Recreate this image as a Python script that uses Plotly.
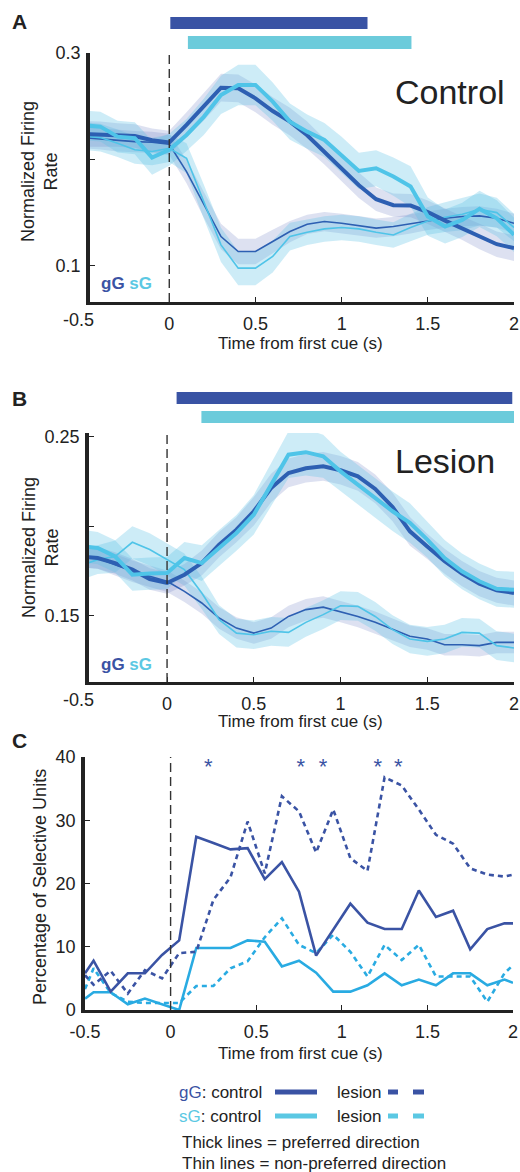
import plotly.graph_objects as go

# ---------------- data ----------------
t_fr = [-0.5, -0.4, -0.3, -0.2, -0.1, 0.0, 0.1, 0.2, 0.3, 0.4, 0.5, 0.6, 0.7,
        0.8, 0.9, 1.0, 1.1, 1.2, 1.3, 1.4, 1.5, 1.6, 1.7, 1.8, 1.9, 2.0]

# Panel A (control)
a_gG_pref = [0.224, 0.2236, 0.223, 0.222, 0.218, 0.216, 0.2324, 0.2496, 0.2674, 0.2668, 0.2574, 0.2455, 0.2355,
             0.2227, 0.2071, 0.1914, 0.1757, 0.1626, 0.157, 0.1566, 0.1504, 0.1425, 0.1353, 0.1275, 0.1203, 0.1166]
a_sG_pref = [0.232, 0.2308, 0.2214, 0.2199, 0.2017, 0.209, 0.223, 0.240, 0.2606, 0.270, 0.270, 0.2543, 0.2355,
             0.2261, 0.2183, 0.2042, 0.1892, 0.1917, 0.1839, 0.1745, 0.1463, 0.1369, 0.1432, 0.1535, 0.1447, 0.1291]
a_gG_np = [0.2205, 0.2193, 0.2174, 0.2167, 0.2161, 0.2142, 0.1886, 0.1573, 0.1275, 0.1134, 0.1134, 0.1228, 0.1322,
           0.139, 0.1416, 0.140, 0.1375, 0.1354, 0.1369, 0.1394, 0.1426, 0.1447, 0.1463, 0.1469, 0.1447, 0.140]
a_sG_np = [0.222, 0.2205, 0.2152, 0.209, 0.2074, 0.2105, 0.2011, 0.1604, 0.1197, 0.0978, 0.0978, 0.1088, 0.1275,
           0.1316, 0.1347, 0.136, 0.1347, 0.1316, 0.129, 0.136, 0.1422, 0.1457, 0.1485, 0.153, 0.150, 0.136]
a_gG_pref_sem = [0.012, 0.012, 0.011, 0.011, 0.011, 0.011, 0.012, 0.013, 0.013, 0.013, 0.013, 0.013, 0.013,
                 0.013, 0.012, 0.012, 0.012, 0.011, 0.011, 0.011, 0.011, 0.011, 0.011, 0.012, 0.012, 0.012]
a_sG_pref_sem = [0.014, 0.014, 0.015, 0.015, 0.016, 0.015, 0.015, 0.017, 0.018, 0.019, 0.019, 0.018, 0.017,
                 0.016, 0.016, 0.017, 0.017, 0.017, 0.018, 0.019, 0.018, 0.016, 0.016, 0.017, 0.017, 0.016]
a_gG_np_sem = [0.010, 0.010, 0.010, 0.010, 0.010, 0.010, 0.011, 0.012, 0.012, 0.012, 0.012, 0.011, 0.010,
               0.009, 0.009, 0.009, 0.009, 0.009, 0.009, 0.009, 0.009, 0.009, 0.009, 0.009, 0.009, 0.009]
a_sG_np_sem = [0.013, 0.013, 0.013, 0.013, 0.013, 0.013, 0.014, 0.016, 0.016, 0.016, 0.016, 0.015, 0.013,
               0.012, 0.012, 0.012, 0.012, 0.012, 0.012, 0.013, 0.013, 0.014, 0.015, 0.015, 0.014, 0.013]

# Panel B (lesion)
b_gG_pref = [0.183, 0.1822, 0.1794, 0.1757, 0.1705, 0.1683, 0.1729, 0.1794, 0.1897, 0.198, 0.2083, 0.2213, 0.2297,
             0.2323, 0.2334, 0.2312, 0.2278, 0.2208, 0.2107, 0.1971, 0.1887, 0.1804, 0.1735, 0.1679, 0.1642, 0.1627]
b_sG_pref = [0.189, 0.1878, 0.1831, 0.1729, 0.1735, 0.1738, 0.1822, 0.1794, 0.1878, 0.1962, 0.2064, 0.2232, 0.2399,
             0.2413, 0.239, 0.2306, 0.2232, 0.2157, 0.2083, 0.2018, 0.1925, 0.1822, 0.1748, 0.1692, 0.165, 0.1645]
b_gG_np = [0.183, 0.1822, 0.1785, 0.1748, 0.172, 0.1692, 0.1636, 0.1571, 0.1487, 0.1431, 0.1403, 0.1431, 0.1496,
           0.1534, 0.1548, 0.1524, 0.1496, 0.1463, 0.1422, 0.1385, 0.137, 0.1338, 0.1338, 0.1333, 0.1351, 0.1351]
b_sG_np = [0.178, 0.1813, 0.183, 0.191, 0.187, 0.1813, 0.1757, 0.1627, 0.1478, 0.1403, 0.1394, 0.1413, 0.1407,
           0.1463, 0.1506, 0.1556, 0.1552, 0.1496, 0.1422, 0.137, 0.1357, 0.137, 0.1407, 0.1403, 0.1333, 0.132]
b_gG_pref_sem = [0.006, 0.006, 0.006, 0.006, 0.006, 0.006, 0.006, 0.007, 0.007, 0.007, 0.008, 0.008, 0.008,
                 0.008, 0.008, 0.008, 0.008, 0.008, 0.008, 0.008, 0.007, 0.007, 0.007, 0.007, 0.007, 0.007]
b_sG_pref_sem = [0.009, 0.009, 0.009, 0.009, 0.009, 0.009, 0.009, 0.010, 0.010, 0.010, 0.011, 0.012, 0.013,
                 0.013, 0.012, 0.011, 0.011, 0.011, 0.011, 0.011, 0.010, 0.010, 0.010, 0.010, 0.010, 0.010]
b_gG_np_sem = [0.006, 0.006, 0.006, 0.006, 0.006, 0.006, 0.006, 0.006, 0.006, 0.006, 0.006, 0.006, 0.006,
               0.006, 0.006, 0.006, 0.006, 0.006, 0.006, 0.006, 0.006, 0.006, 0.006, 0.006, 0.006, 0.006]
b_sG_np_sem = [0.008, 0.008, 0.009, 0.009, 0.009, 0.009, 0.009, 0.009, 0.008, 0.008, 0.008, 0.008, 0.008,
               0.008, 0.008, 0.008, 0.008, 0.008, 0.008, 0.008, 0.008, 0.008, 0.008, 0.008, 0.008, 0.008]

# significance bars (time spans, s)
sig_a_gG = [0.006, 1.15]
sig_a_sG = [0.108, 1.405]
sig_b_gG = [0.055, 1.99]
sig_b_sG = [0.198, 2.05]

# Panel C (percentage of selective units)
t_pct = [-0.5, -0.45, -0.35, -0.25, -0.15, -0.05, 0.05, 0.15, 0.25, 0.35, 0.45, 0.55, 0.65, 0.75,
         0.85, 0.95, 1.05, 1.15, 1.25, 1.35, 1.45, 1.55, 1.65, 1.75, 1.85, 1.95, 2.0]
c_gG_ctrl = [5.8, 7.8, 2.9, 5.8, 5.8, 8.7, 11.0, 27.4, 26.4, 25.4, 25.6, 20.7, 23.4, 18.7,
             8.6, 12.7, 16.8, 13.8, 12.8, 12.8, 18.9, 14.7, 15.7, 9.6, 12.8, 13.7, 13.7]
c_gG_les = [5.5, 4.0, 6.2, 2.6, 6.3, 5.0, 9.0, 9.2, 17.4, 21.0, 29.8, 21.6, 33.8, 31.4,
            24.9, 31.7, 24.0, 22.0, 36.8, 35.5, 31.7, 27.7, 26.3, 22.4, 21.4, 21.1, 21.4]
c_sG_ctrl = [1.8, 2.8, 2.8, 0.9, 1.8, 0.9, 0.0, 9.8, 9.8, 9.8, 11.0, 10.8, 6.9, 7.8,
             5.9, 2.9, 2.9, 3.9, 5.8, 3.9, 4.8, 3.9, 5.8, 5.8, 3.9, 4.8, 4.3]
c_sG_les = [3.3, 6.6, 2.7, 1.3, 1.1, 1.1, 1.1, 3.8, 3.8, 6.6, 7.7, 11.5, 14.5, 10.3,
            9.0, 11.9, 9.2, 5.3, 10.3, 7.9, 10.3, 5.3, 5.3, 5.3, 1.3, 5.8, 7.1]
star_t = [0.22, 0.76, 0.89, 1.21, 1.33]
star_y = [38.2, 38.2, 38.2, 38.2, 38.2]

cue_time = 0.0

# tick labels
x_ticks = [0, 0.5, 1, 1.5, 2]
x_ticktext = ["0", "0.5", "1", "1.5", "2"]
c_x_ticks = [-0.5, 0, 0.5, 1, 1.5, 2]
c_x_ticktext = ["-0.5", "0", "0.5", "1", "1.5", "2"]

# ---------------- style ----------------
W, H = 520, 1172
FONT = "Arial, Liberation Sans, Helvetica, sans-serif"
INK = "#222222"
DARK = "#2d5fb2"
CYAN = "#4fc4e8"
DARK_C = "#3a53a4"
CYAN_C = "#29abe2"
BAR_DARK = "#3953a4"
BAR_CYAN = "#6ccbdb"
BAND_DARK = "rgba(120,135,200,0.25)"
BAND_CYAN = "rgba(91,192,230,0.30)"
TICK_SIZE = 18


def px_x(p):
    return p / W


def px_y(p):
    return 1 - p / H


fig = go.Figure()


def band(t, m, s, color, xa, ya):
    up = [a + b for a, b in zip(m, s)]
    lo = [a - b for a, b in zip(m, s)]
    fig.add_trace(go.Scatter(x=t + t[::-1], y=up + lo[::-1], fill="toself", fillcolor=color,
                             line=dict(width=0), mode="lines", hoverinfo="skip",
                             showlegend=False, xaxis=xa, yaxis=ya))


def line(t, m, color, width, xa, ya, dash="solid"):
    fig.add_trace(go.Scatter(x=t, y=m, mode="lines", line=dict(color=color, width=width, dash=dash),
                             showlegend=False, xaxis=xa, yaxis=ya))


for xa, ya, d in [("x", "y", (a_gG_pref, a_sG_pref, a_gG_np, a_sG_np,
                              a_gG_pref_sem, a_sG_pref_sem, a_gG_np_sem, a_sG_np_sem)),
                  ("x2", "y2", (b_gG_pref, b_sG_pref, b_gG_np, b_sG_np,
                                b_gG_pref_sem, b_sG_pref_sem, b_gG_np_sem, b_sG_np_sem))]:
    gp, sp, gn, sn, gps, sps, gns, sns = d
    band(t_fr, gn, gns, BAND_DARK, xa, ya)
    band(t_fr, sn, sns, BAND_CYAN, xa, ya)
    band(t_fr, gp, gps, BAND_DARK, xa, ya)
    band(t_fr, sp, sps, BAND_CYAN, xa, ya)
    line(t_fr, gn, DARK, 1.6, xa, ya)
    line(t_fr, sn, CYAN, 1.6, xa, ya)
    line(t_fr, gp, DARK, 4, xa, ya)
    line(t_fr, sp, CYAN, 4, xa, ya)

# Panel C lines
line(t_pct, c_sG_les, CYAN_C, 2.6, "x3", "y3", dash="5px,4px")
line(t_pct, c_sG_ctrl, CYAN_C, 2.6, "x3", "y3")
line(t_pct, c_gG_les, DARK_C, 2.6, "x3", "y3", dash="5px,4px")
line(t_pct, c_gG_ctrl, DARK_C, 2.6, "x3", "y3")
fig.add_trace(go.Scatter(x=star_t, y=star_y, mode="text", text=["*"] * len(star_t),
                         textfont=dict(size=22, color=DARK_C, family=FONT), textposition="middle center",
                         showlegend=False, xaxis="x3", yaxis="y3", cliponaxis=False))


def xaxis(domain, rng, anchor, tv, tt):
    return dict(domain=domain, range=rng, anchor=anchor, showline=True, linecolor=INK, linewidth=2.5,
                ticks="inside", ticklen=5, tickwidth=1.2, tickcolor=INK, tickvals=tv, ticktext=tt,
                tickfont=dict(size=TICK_SIZE, color=INK, family=FONT), showgrid=False, zeroline=False,
                ticklabelstandoff=4, automargin=False)


def yaxis(domain, rng, anchor, tv, tt):
    return dict(domain=domain, range=rng, anchor=anchor, showline=True, linecolor=INK, linewidth=3.5,
                ticks="inside", ticklen=5, tickwidth=1.2, tickcolor=INK, tickvals=tv, ticktext=tt,
                tickfont=dict(size=TICK_SIZE, color=INK, family=FONT), showgrid=False, zeroline=False,
                ticklabelstandoff=2, automargin=False)


fig.update_layout(
    width=W, height=H, margin=dict(l=0, r=0, t=0, b=0, pad=0, autoexpand=False),
    paper_bgcolor="white", plot_bgcolor="white", showlegend=False,
    font=dict(family=FONT, color=INK, size=17),
    xaxis=xaxis([px_x(90), px_x(514)], [-0.46, 2.0], "y", x_ticks, x_ticktext),
    yaxis=yaxis([px_y(302), px_y(53)], [0.066, 0.3], "x", [0.1, 0.2, 0.3], ["0.1", "", "0.3"]),
    xaxis2=xaxis([px_x(89), px_x(514)], [-0.45, 2.0], "y2", x_ticks, x_ticktext),
    yaxis2=yaxis([px_y(682), px_y(433)], [0.113, 0.252], "x2", [0.15, 0.2, 0.25], ["0.15", "", "0.25"]),
    xaxis3=xaxis([px_x(85), px_x(513)], [-0.5, 2.0], "y3", c_x_ticks, c_x_ticktext),
    yaxis3=yaxis([px_y(1010), px_y(757)], [0, 40], "x3", [0, 10, 20, 30, 40],
                 ["0", "10", "20", "30", "40"]),
)

shapes = []
# cue lines
for xr, yr in [("x", "y domain"), ("x2", "y2 domain"), ("x3", "y3 domain")]:
    shapes.append(dict(type="line", xref=xr, yref=yr, x0=cue_time, x1=cue_time, y0=0, y1=1,
                       line=dict(color="#333333", width=1.4, dash="9px,5px")))
# significance bars
for xr, span, y0, y1, col in [("x", sig_a_gG, 17, 29, BAR_DARK), ("x", sig_a_sG, 36, 49, BAR_CYAN),
                              ("x2", sig_b_gG, 392, 404, BAR_DARK), ("x2", sig_b_sG, 411, 423, BAR_CYAN)]:
    shapes.append(dict(type="rect", xref=xr, yref="paper", x0=span[0], x1=span[1],
                       y0=px_y(y1), y1=px_y(y0), fillcolor=col, line=dict(width=0)))

# legend samples
LEG_DARK = "#3a53a4"
LEG_CYAN = "#5bc8e3"
for yp, col in [(1092, LEG_DARK), (1116, LEG_CYAN)]:
    shapes.append(dict(type="line", xref="paper", yref="paper", x0=px_x(275), x1=px_x(317),
                       y0=px_y(yp), y1=px_y(yp), line=dict(color=col, width=5)))
    for a, b in [(388, 398), (413, 424)]:
        shapes.append(dict(type="line", xref="paper", yref="paper", x0=px_x(a), x1=px_x(b),
                           y0=px_y(yp), y1=px_y(yp), line=dict(color=col, width=5)))
fig.update_layout(shapes=shapes)

ann = []


def text(x, y, s, size=17, color=INK, xanchor="center", yanchor="middle", angle=0, bold=False):
    if bold:
        s = "<b>" + s + "</b>"
    ann.append(dict(x=px_x(x), y=px_y(y), xref="paper", yref="paper", text=s, showarrow=False,
                    font=dict(size=size, color=color, family=FONT), xanchor=xanchor, yanchor=yanchor,
                    textangle=angle, borderpad=0))


# panel letters
text(19, 22, "A", size=21, bold=True)
text(19, 398, "B", size=21, bold=True)
text(19, 740, "C", size=21, bold=True)
# condition titles
text(450, 92, "Control", size=34)
text(445, 461, "Lesion", size=34)
# gG sG tags
for yp in (283, 665):
    text(100, yp, '<span style="color:%s">gG</span> <span style="color:%s">sG</span>' % (LEG_DARK, LEG_CYAN),
         size=17, xanchor="left", bold=True)
# -0.5 labels for panels A and B (tick sits just left of the drawn axis)
text(78, 320, "-0.5", size=TICK_SIZE)
text(78, 700, "-0.5", size=TICK_SIZE)
# x titles
text(300, 344, "Time from first cue (s)", size=17)
text(300, 722, "Time from first cue (s)", size=17)
text(300, 1053, "Time from first cue (s)", size=17)
# y titles
text(40, 172, "Normalized Firing<br>Rate", size=18, angle=-90)
text(40, 548, "Normalized Firing<br>Rate", size=18, angle=-90)
text(40, 887, "Percentage of Selective Units", size=18, angle=-90)
# legend text
text(178, 1092, '<span style="color:%s">gG</span>: control' % LEG_DARK, size=17, xanchor="left")
text(336, 1092, "lesion", size=17, xanchor="left")
text(178, 1116, '<span style="color:%s">sG</span>: control' % LEG_CYAN, size=17, xanchor="left")
text(336, 1116, "lesion", size=17, xanchor="left")
text(181, 1142, "Thick lines = preferred direction", size=17, xanchor="left")
text(181, 1163, "Thin lines = non-preferred direction", size=17, xanchor="left")
fig.update_layout(annotations=ann)

fig.write_html("out.html", config={"displayModeBar": False},
               post_script="document.body.style.margin='0';document.body.style.padding='0';"
                           "document.documentElement.style.overflow='hidden';")
